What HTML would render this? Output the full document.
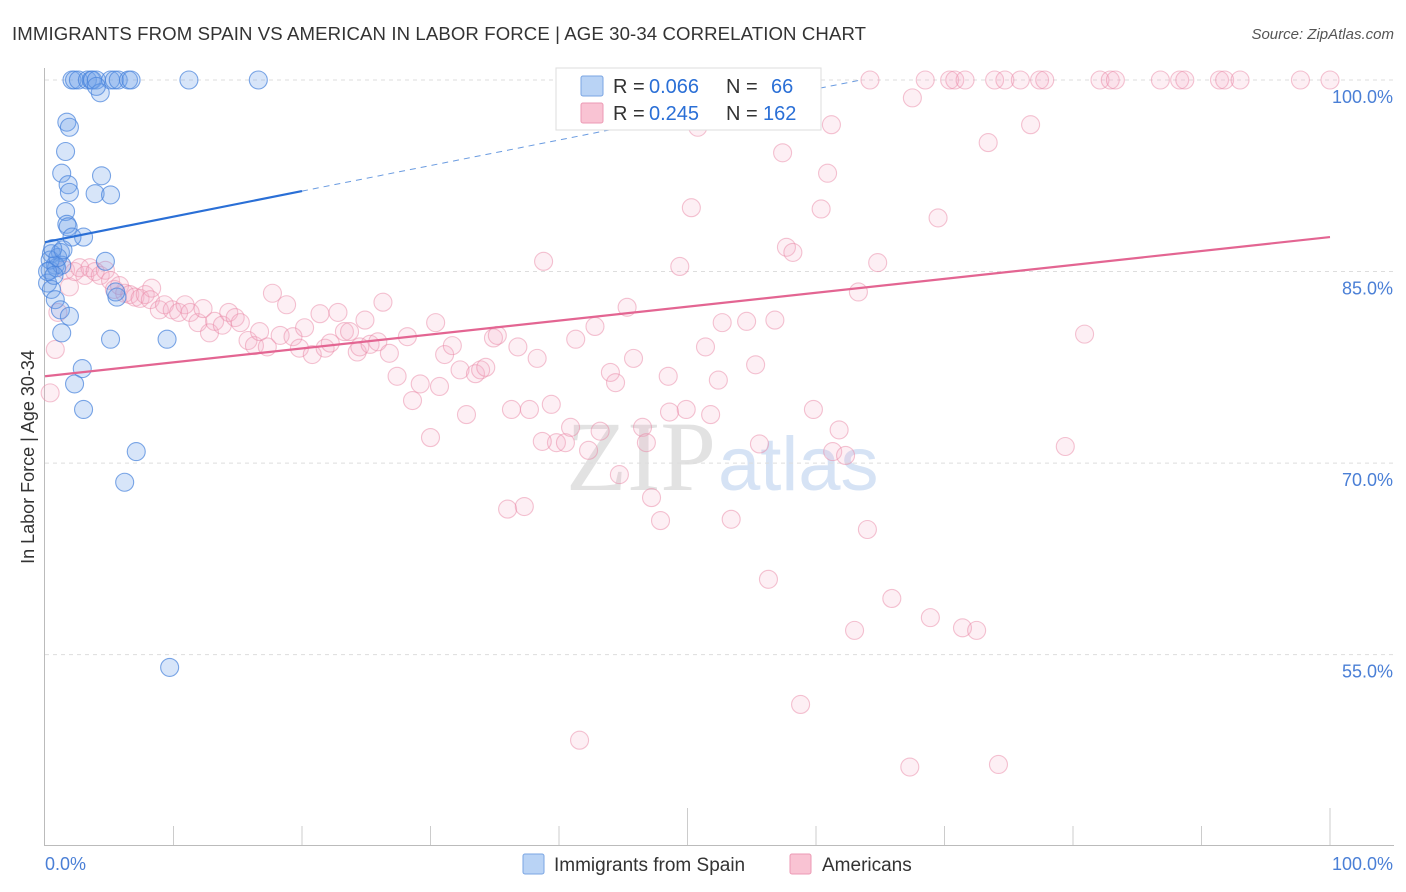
<!DOCTYPE html>
<html><head><meta charset="utf-8"><style>
body{margin:0;background:#fff;font-family:"Liberation Sans",sans-serif}
svg{display:block}
</style></head><body>
<svg width="1406" height="892" id="chart" xmlns="http://www.w3.org/2000/svg">
<text x="12" y="40" font-size="18.6" fill="#333" textLength="854">IMMIGRANTS FROM SPAIN VS AMERICAN IN LABOR FORCE | AGE 30-34 CORRELATION CHART</text>
<text x="1394" y="39" font-size="15" fill="#555" text-anchor="end" font-style="italic">Source: ZipAtlas.com</text>
<text x="716" y="490" font-size="100" fill="#e2e2e2" text-anchor="end" font-family="Liberation Serif">ZIP</text>
<text x="718" y="490" font-size="76" fill="#d6e3f5">atlas</text>
<g id="grid"></g>
<g id="axes"></g>
<g id="pts"></g>
<g id="lines"></g>
<text transform="translate(34,457) rotate(-90)" font-size="18" fill="#333" text-anchor="middle">In Labor Force | Age 30-34</text>
<g>
<rect x="556" y="68" width="265" height="62" fill="#fff" stroke="#ddd"/>
<rect x="581" y="76" width="22" height="20" fill="#b9d3f5" stroke="#7aa5e3" rx="2"/>
<rect x="581" y="103" width="22" height="20" fill="#f9c3d3" stroke="#ec9ab4" rx="2"/>
<text x="613" y="93" font-size="20" fill="#333">R =</text>
<text x="649" y="93" font-size="20" fill="#2a6fd6">0.066</text>
<text x="726" y="93" font-size="20" fill="#333">N =</text>
<text x="771" y="93" font-size="20" fill="#2a6fd6">66</text>
<text x="613" y="120" font-size="20" fill="#333">R =</text>
<text x="649" y="120" font-size="20" fill="#2a6fd6">0.245</text>
<text x="726" y="120" font-size="20" fill="#333">N =</text>
<text x="763" y="120" font-size="20" fill="#2a6fd6">162</text>
</g>
<g>
<rect x="523" y="854" width="21" height="20" fill="#b9d3f5" stroke="#7aa5e3" rx="2"/>
<text x="554" y="871" font-size="19" fill="#333">Immigrants from Spain</text>
<rect x="790" y="854" width="21" height="20" fill="#f9c3d3" stroke="#ec9ab4" rx="2"/>
<text x="822" y="871" font-size="19" fill="#333">Americans</text>
</g>
</svg>
<script>
const yTicks=[100,85,70,55];
const yTickLabels=["100.0%","85.0%","70.0%","55.0%"];
const xTickLabels=["0.0%","100.0%"];
const blueX=[2.1,2.3,2.6,3.3,3.6,3.7,4.0,5.1,5.4,5.7,6.5,6.7,11.2,16.6,4.3,4.0,1.7,1.9,1.6,1.3,1.8,1.9,3.9,5.1,4.4,1.6,1.7,1.8,3.0,2.1,4.7,0.5,1.2,0.8,0.4,0.9,1.3,0.2,0.5,0.8,1.2,1.9,1.3,5.6,5.5,5.1,9.5,2.9,2.3,3.0,7.1,6.2,9.7,0.4,1.0,0.6,1.4,0.2,0.7];
const blueY=[100,100,100,100,100,100,100,100,100,100,100,100,100,100,99.0,99.5,96.7,96.3,94.4,92.7,91.8,91.2,91.1,91.0,92.5,89.7,88.7,88.5,87.7,87.7,85.8,86.4,86.5,85.5,85.1,85.3,85.5,84.1,83.6,82.8,82.0,81.5,80.2,83.0,83.4,79.7,79.7,77.4,76.2,74.2,70.9,68.5,54.0,85.9,86.1,86.8,86.7,85.0,84.7];
const pinkX=[54.1,59.1,64.2,68.5,70.4,70.8,71.6,73.9,74.7,75.9,77.4,77.8,82.1,82.9,83.3,86.8,88.3,88.7,91.4,91.8,93.0,97.7,100,67.5,50.8,61.2,76.7,73.4,57.4,60.9,50.3,60.4,69.5,57.7,58.2,38.8,49.4,64.8,63.3,80.9,79.4,0.8,0.4,1.9,1.0,1.6,2.3,2.7,3.1,3.5,3.9,4.3,4.7,5.1,5.4,5.8,6.2,6.6,7.0,7.4,7.8,8.3,8.2,8.9,9.3,9.9,10.4,10.9,11.3,11.9,12.3,12.8,13.2,13.8,14.3,14.8,15.2,15.8,16.3,16.7,17.3,17.7,18.3,18.8,19.3,19.8,20.2,20.8,21.4,21.8,22.2,22.8,23.3,23.7,24.3,24.5,24.9,25.3,25.9,26.3,26.8,27.4,28.2,28.6,29.2,30.0,30.4,30.7,31.1,31.7,32.3,32.8,33.5,33.9,34.3,34.9,35.2,36.0,36.3,36.8,37.3,37.7,38.3,39.4,39.8,40.5,40.9,42.3,43.2,41.3,42.8,44.0,44.4,44.7,45.3,45.8,46.5,46.8,47.2,47.9,48.5,48.6,49.9,51.4,51.8,52.4,52.7,53.4,54.6,55.3,55.6,56.3,56.8,58.8,59.8,61.3,61.8,62.3,63.0,64.0,65.9,67.3,68.9,71.4,72.5,74.2,41.6,38.7];
const pinkY=[100,100,100,100,100,100,100,100,100,100,100,100,100,100,100,100,100,100,100,100,100,100,100,98.6,96.3,96.5,96.5,95.1,94.3,92.7,90.0,89.9,89.2,86.9,86.5,85.8,85.4,85.7,83.4,80.1,71.3,78.9,75.5,83.8,81.8,85.1,85.0,85.3,84.7,85.3,85.0,84.7,85.1,84.3,83.6,83.9,83.3,83.2,83.0,82.9,83.2,83.7,82.8,82.0,82.4,82.0,81.8,82.4,81.8,81.0,82.1,80.2,81.1,80.8,81.8,81.4,81.0,79.6,79.2,80.3,79.1,83.3,80.0,82.4,79.9,79.0,80.6,78.5,81.7,79.0,79.4,81.8,80.3,80.3,78.7,79.1,81.2,79.3,79.5,82.6,78.6,76.8,79.9,74.9,76.2,72.0,81.0,76.0,78.5,79.2,77.3,73.8,77.0,77.3,77.5,79.8,80.0,66.4,74.2,79.1,66.6,74.2,78.2,74.6,71.6,71.6,72.8,71.0,72.5,79.7,80.7,77.1,76.3,69.1,82.2,78.2,72.8,71.6,67.3,65.5,76.8,74.0,74.2,79.1,73.8,76.5,81.0,65.6,81.1,77.7,71.5,60.9,81.2,51.1,74.2,70.9,72.6,70.6,56.9,64.8,59.4,46.2,57.9,57.1,56.9,46.4,48.3,71.7];
const blueLine=[87.3,107.3];
const pinkLine=[76.8,87.7];

const NS="http://www.w3.org/2000/svg";
const X=v=>45+v*12.85, Y=v=>80+(100-v)*12.77;
function mk(tag,attrs,parent){const e=document.createElementNS(NS,tag);for(const k in attrs)e.setAttribute(k,attrs[k]);document.getElementById(parent).appendChild(e);return e;}
yTicks.forEach((t,i)=>{
  const l=mk('line',{x1:45,x2:1394,y1:Y(t),y2:Y(t),stroke:'#ddd','stroke-dasharray':'4,4'},'grid');
  
  
  const tx=mk('text',{x:1393,y:Y(t)+23,'font-size':18,fill:'#4a7fd6','text-anchor':'end'},'grid');
  tx.textContent=yTickLabels[i];
  
  
});
const ax=mk('line',{x1:44.5,x2:44.5,y1:68,y2:845,stroke:'#bbb'},'axes');


const bx=mk('line',{x1:44,x2:1394,y1:845.5,y2:845.5,stroke:'#bbb'},'axes');


for(let i=1;i<=10;i++){
  const tk=mk('line',{x1:X(i*10),x2:X(i*10),y1:(i==5||i==10)?808:826,y2:845,stroke:'#ccc'},'axes');
  
  
}
const xl0=mk('text',{x:45,y:870,'font-size':18,fill:'#4a7fd6'},'axes');xl0.textContent=xTickLabels[0];


const xl1=mk('text',{x:1393,y:870,'font-size':18,fill:'#4a7fd6','text-anchor':'end'},'axes');xl1.textContent=xTickLabels[1];


pinkX.forEach((v,i)=>{
  const c=mk('circle',{cx:X(v),cy:Y(pinkY[i]),r:9,fill:'rgba(246,175,198,0.2)',stroke:'rgba(234,135,166,0.5)','stroke-width':1.1},'pts');
  
  
});
blueX.forEach((v,i)=>{
  const c=mk('circle',{cx:X(v),cy:Y(blueY[i]),r:9,fill:'rgba(110,160,235,0.28)',stroke:'rgba(70,130,220,0.7)','stroke-width':1.1},'pts');
  
  
});
const bAt=x=>blueLine[0]+(blueLine[1]-blueLine[0])*x/100;
const xEnd=(100-blueLine[0])/(blueLine[1]-blueLine[0])*100;
const bl=mk('line',{x1:X(0),y1:Y(bAt(0)),x2:X(20),y2:Y(bAt(20)),stroke:'#2a6fd6','stroke-width':2.2},'lines');


const bd=mk('line',{x1:X(20),y1:Y(bAt(20)),x2:X(xEnd),y2:Y(bAt(xEnd)),stroke:'#6a9be0','stroke-width':1,'stroke-dasharray':'6,5'},'lines');


const pl=mk('line',{x1:X(0),y1:Y(pinkLine[0]),x2:X(100),y2:Y(pinkLine[1]),stroke:'#e36592','stroke-width':2.2},'lines');


</script>
</body></html>
